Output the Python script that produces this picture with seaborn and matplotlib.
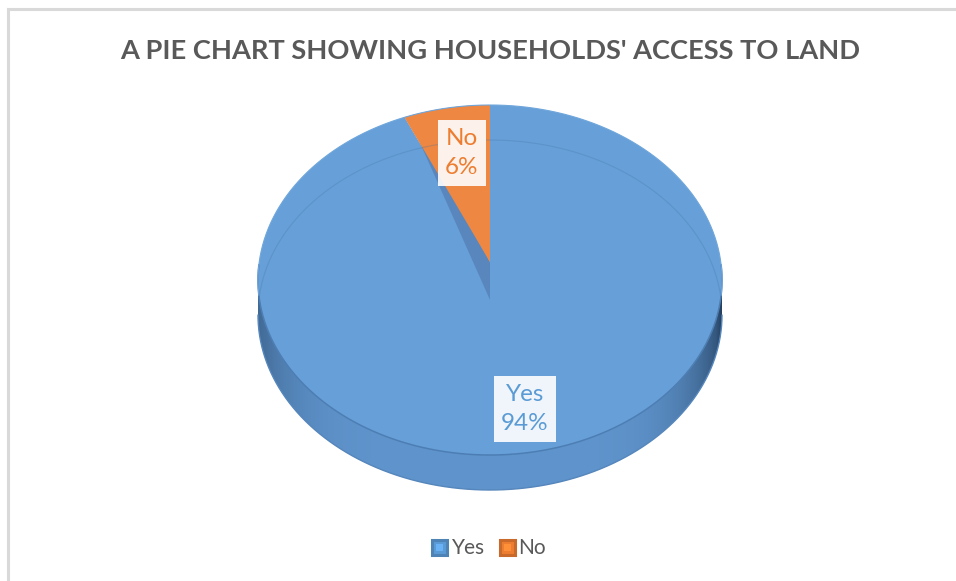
import numpy as np
import matplotlib
matplotlib.use("Agg")
import matplotlib.pyplot as plt
import seaborn as sns
from matplotlib.patches import Polygon, Rectangle
from matplotlib.path import Path

# Survey result: do households have access to land?
categories = ["Yes", "No"]
shares = [94, 6]
title = "A PIE CHART SHOWING HOUSEHOLDS' ACCESS TO LAND"

sns.set_theme(style="white")
plt.rcParams["font.family"] = ["Lato", "DejaVu Sans"]

palette = sns.color_palette(["#5B9BD5", "#ED7D31"])
top_cols = ["#67A0D8", "#EE8742"]
wall_col = "#5987BD"
text_grey = "#595959"

W, H = 956, 581
fig = plt.figure(figsize=(W / 100, H / 100), dpi=100)
ax = fig.add_axes([0, 0, 1, 1])
ax.set_xlim(0, W)
ax.set_ylim(H, 0)
ax.axis("off")

# chart frame (left and top edges)
ax.plot([8, 8, W], [H, 9, 9], color="#D9D9D9", lw=2.2, solid_joinstyle="miter")

# projected pie geometry (pixels)
cx, cy = 490, 280
rx, ry = 232, 175
depth = 35
hub = (490, 262)


def rim(theta_deg, dy=0.0):
    t = np.radians(theta_deg)
    return cx + rx * np.cos(t), cy - ry * np.sin(t) + dy


# slice angles: clockwise from 12 o'clock, first category first
fracs = np.array(shares, dtype=float) / np.sum(shares)
starts = 90 - 360 * np.concatenate([[0], np.cumsum(fracs)[:-1]])
ends = starts - 360 * fracs

# ---- side wall of the front half with shading toward the edges
th = np.linspace(180, 360, 300)
tx, ty = rim(th)
bx, by = rim(th[::-1], depth)
side = np.column_stack([np.concatenate([tx, bx]), np.concatenate([ty, by])])
side_poly = Polygon(side, closed=True, fc="none", ec="none")
ax.add_patch(side_poly)
xs = np.linspace(cx - rx, cx + rx, 500)
u = (xs - cx) / rx
base = np.array(matplotlib.colors.to_rgb("#5F94CC"))
dark = np.array(matplotlib.colors.to_rgb("#34577E"))
w = np.clip(np.abs(u), 0, 1) ** 6
w = np.where(u > 0, w * 1.15, w * 0.7)
grad = base[None, :] * (1 - w[:, None]) + dark[None, :] * np.clip(w[:, None], 0, 1)
img = ax.imshow(grad[None, :, :], extent=[cx - rx, cx + rx, cy + ry + depth + 2, cy - 10],
                aspect="auto", zorder=1, interpolation="bilinear")
img.set_clip_path(side_poly)
ax.plot(bx, by, color="#5586BC", lw=1.0, zorder=2)

# ---- top faces of the slices
for i, (s, e) in enumerate(zip(starts, ends)):
    arc = np.linspace(s, e, 400)
    px, py = rim(arc)
    pts = np.column_stack([np.concatenate([[hub[0]], px]), np.concatenate([[hub[1]], py])])
    ax.add_patch(Polygon(pts, closed=True, fc=top_cols[i], ec="none", zorder=3))

# radial wall of the large slice, seen beside the small one
ex, ey = rim(starts[1])
ax.add_patch(Polygon([(ex + 4, ey), hub, (hub[0], hub[1] + depth + 3)], closed=True,
                     fc=wall_col, ec="none", zorder=4))
# redraw small slice above the wall
arc = np.linspace(starts[1], ends[1], 200)
px, py = rim(arc)
ax.add_patch(Polygon(np.column_stack([np.concatenate([[hub[0]], px]),
                                      np.concatenate([[hub[1]], py])]),
                     closed=True, fc=top_cols[1], ec="none", zorder=5))

# faint inner rim line on the top face
full = np.linspace(0, 360, 600)
fx, fy = rim(full)
top_path = Path(np.column_stack([fx, fy]))
ix, iy = rim(np.linspace(0, 180, 300), depth)
ln, = ax.plot(ix, iy, color="#3F6E9E", lw=0.9, alpha=0.25, zorder=6)
ln.set_clip_path(top_path, ax.transData)
# front edge of the top face
ex2, ey2 = rim(np.linspace(175, 365, 300))
ax.plot(ex2, ey2, color="#4D7EB3", lw=1.1, zorder=6)
ox, oy = rim(np.linspace(-5, 185, 300))
ax.plot(ox, oy, color="#6FA6DB", lw=0.8, zorder=6)

# ---- data labels
label_pos = [(525, 409), (462, 153)]
label_cols = ["#5B9BD5", "#ED7D31"]
for cat, val, (lx, ly), col in zip(categories, shares, label_pos, label_cols):
    ax.text(lx, ly, f"{cat}\n{val}%", ha="center", va="center", fontsize=17.5,
            color=col, linespacing=1.5, zorder=8,
            bbox=dict(boxstyle="square,pad=0.3", fc="white", ec="none", alpha=0.9))

# ---- title
ax.text(490, 51, title, ha="center", va="center", fontsize=19.6, fontweight="bold",
        color=text_grey, zorder=8)

# ---- legend
leg_y = 547
leg_items = [(432, 452), (500, 518)]
for (sx, tx_), cat, col in zip(leg_items, categories, palette):
    dcol = np.array(col) * 0.85
    ax.add_patch(Rectangle((sx, leg_y - 7.5), 15, 15, fc=col, ec=dcol, lw=2.2, zorder=8))
    ax.add_patch(Rectangle((sx + 4, leg_y - 3.5), 7, 7, fc=np.minimum(np.array(col) * 1.15, 1),
                           ec="none", zorder=9))
    ax.text(tx_, leg_y + 1, cat, ha="left", va="center", fontsize=15, color=text_grey, zorder=8)

fig.savefig("out.png", dpi=100)
